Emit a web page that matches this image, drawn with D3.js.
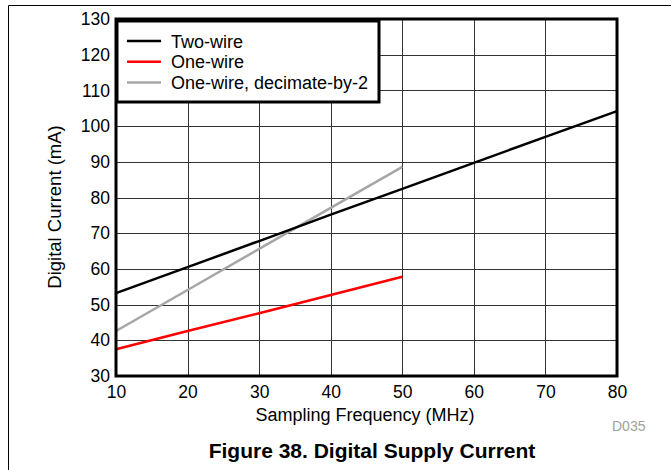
<!DOCTYPE html>
<html><head><meta charset="utf-8">
<script src="https://cdn.jsdelivr.net/npm/d3@7"></script>
<style>body{margin:0;background:#fff}svg{display:block;font-family:"Liberation Sans",Arial,sans-serif}</style>
</head><body><svg id="c" width="671" height="470"></svg>
<script>
const freqs = [10, 20, 30, 40, 50, 60, 70, 80];
const twoWire = [53.2, 60.5, 67.8, 75.2, 82.4, 89.7, 97.0, 104.2];
const oneWireFreqs = [10, 20, 30, 40, 50];
const oneWire = [37.5, 42.6, 47.6, 52.7, 57.8];
const oneWireDec2 = [42.6, 54.1, 65.6, 77.1, 88.6];
const xTicks = [10, 20, 30, 40, 50, 60, 70, 80];
const yTicks = [30, 40, 50, 60, 70, 80, 90, 100, 110, 120, 130];
const seriesNames = ["Two-wire", "One-wire", "One-wire, decimate-by-2"];
const seriesColors = ["#000000", "#ff0000", "#a6a6a6"];

const svg = d3.select("#c");
const L = 116, R = 617, T = 19, B = 376;
const x = d3.scaleLinear().domain([10, 80]).range([L, R]);
const y = d3.scaleLinear().domain([30, 130]).range([B, T]);

// outer frame
svg.append("line").attr("x1", 8.5).attr("x2", 8.5).attr("y1", 5.5).attr("y2", 470).attr("stroke", "#000");
svg.append("line").attr("x1", 8.5).attr("x2", 671).attr("y1", 5.5).attr("y2", 5.5).attr("stroke", "#000");

// grid
svg.append("g").selectAll("line").data(xTicks).join("line")
  .attr("x1", d => Math.round(x(d)) + 0.5).attr("x2", d => Math.round(x(d)) + 0.5)
  .attr("y1", T).attr("y2", B).attr("stroke", "#333").attr("stroke-width", 1);
svg.append("g").selectAll("line").data(yTicks).join("line")
  .attr("y1", d => Math.round(y(d)) + 0.5).attr("y2", d => Math.round(y(d)) + 0.5)
  .attr("x1", L).attr("x2", R).attr("stroke", "#333").attr("stroke-width", 1);

// series
const line = d3.line().x(d => x(d[0])).y(d => y(d[1]));
const data = [
  d3.zip(freqs, twoWire),
  d3.zip(oneWireFreqs, oneWire),
  d3.zip(oneWireFreqs, oneWireDec2)
];
[2, 1, 0].forEach(i => {
  svg.append("path").attr("d", line(data[i])).attr("fill", "none")
    .attr("stroke", seriesColors[i]).attr("stroke-width", 2.5);
});

// plot border
svg.append("rect").attr("x", L).attr("y", T).attr("width", R - L).attr("height", B - T)
  .attr("fill", "none").attr("stroke", "#000").attr("stroke-width", 3);

// axes labels
const xAxis = d3.axisBottom(x).tickValues(xTicks).tickSize(0).tickPadding(10);
const gx = svg.append("g").attr("transform", `translate(0,${B})`).call(xAxis);
gx.select(".domain").remove();
gx.selectAll("text").attr("font-size", 17.5).attr("fill", "#000").attr("font-family", "Liberation Sans, Arial, sans-serif");
const yAxis = d3.axisLeft(y).tickValues(yTicks).tickSize(0).tickPadding(6);
const gy = svg.append("g").attr("transform", `translate(${L},0)`).call(yAxis);
gy.select(".domain").remove();
gy.selectAll("text").attr("font-size", 17.5).attr("fill", "#000").attr("font-family", "Liberation Sans, Arial, sans-serif");

svg.append("text").attr("x", 365).attr("y", 421).attr("text-anchor", "middle")
  .attr("font-size", 18).text("Sampling Frequency (MHz)");
svg.append("text").attr("transform", `translate(61,${207}) rotate(-90)`).attr("text-anchor", "middle")
  .attr("font-size", 18.5).text("Digital Current (mA)");

// legend
const lg = svg.append("g");
lg.append("rect").attr("x", 117).attr("y", 21).attr("width", 262).attr("height", 81)
  .attr("fill", "#fff").attr("stroke", "#000").attr("stroke-width", 3);
seriesNames.forEach((n, i) => {
  const yy = 41 + i * 20.8;
  lg.append("line").attr("x1", 127).attr("x2", 161).attr("y1", yy).attr("y2", yy)
    .attr("stroke", seriesColors[i]).attr("stroke-width", 2.5);
  lg.append("text").attr("x", 171).attr("y", yy + 6.5).attr("font-size", 18).text(n);
});

svg.append("text").attr("x", 612).attr("y", 431).attr("font-size", 14).attr("fill", "#a0a0a0").text("D035");
svg.append("text").attr("x", 372).attr("y", 458).attr("text-anchor", "middle")
  .attr("font-size", 21).attr("font-weight", "bold").text("Figure 38. Digital Supply Current");
</script></body></html>
